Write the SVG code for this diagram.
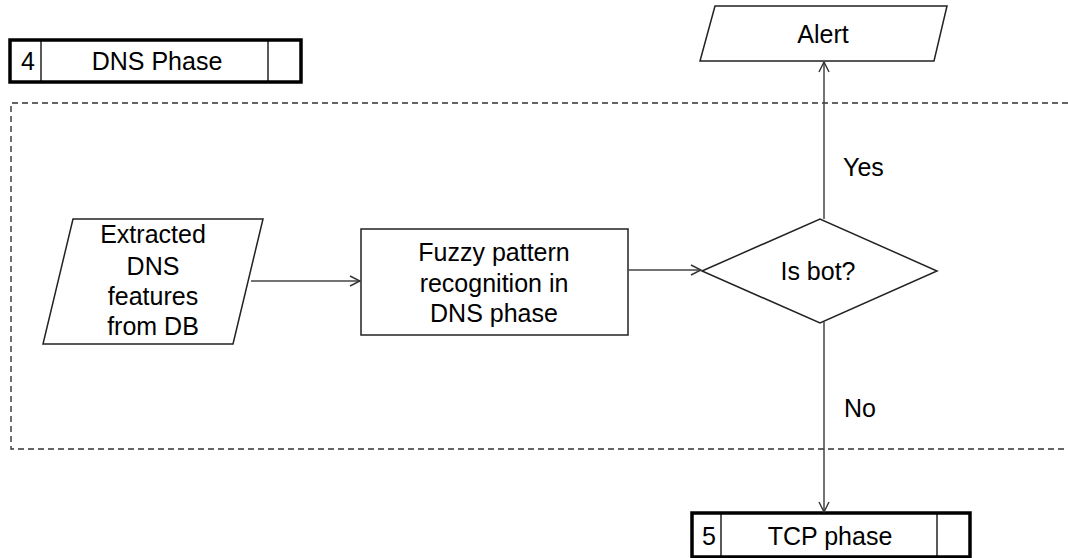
<svg xmlns="http://www.w3.org/2000/svg" width="1068" height="558" viewBox="0 0 1068 558">
  <defs>
    <marker id="openArrow" viewBox="0 0 12 12" refX="11" refY="6" markerWidth="12" markerHeight="12" markerUnits="userSpaceOnUse" orient="auto">
      <path d="M1,1 L11,6 L1,11" fill="none" stroke="#333" stroke-width="1.4"/>
    </marker>
  </defs>
  <style>
    .lbl { font-family: "Liberation Sans", Arial, sans-serif; font-size: 25px; fill: #000; text-anchor: middle; }
    .lbl-start { font-family: "Liberation Sans", Arial, sans-serif; font-size: 25px; fill: #000; }
    .shape { fill: #fff; stroke: #222; stroke-width: 1.5; }
    .phase { fill: #fff; stroke: #000; stroke-width: 3.5; }
    .divider { stroke: #000; stroke-width: 1.3; }
    .conn { fill: none; stroke: #444; stroke-width: 1.5; }
    .frame { fill: none; stroke: #333; stroke-width: 1.4; stroke-dasharray: 6 4; }
  </style>

  <rect width="1068" height="558" fill="#fff"/>

  <!-- phase boundary -->
  <path class="frame" d="M1068,103 H11 V449 H1068"/>

  <g id="phase-dns">
    <rect class="phase" x="10" y="40" width="291" height="42"/>
    <line class="divider" x1="41" y1="40" x2="41" y2="82"/>
    <line class="divider" x1="268" y1="40" x2="268" y2="82"/>
    <text class="lbl" x="28" y="70">4</text>
    <text class="lbl" x="157" y="70">DNS Phase</text>
  </g>

  <g id="input-features">
    <polygon class="shape" points="73,219 263,219 233,344 43,344"/>
    <text class="lbl" x="153" y="243">Extracted</text>
    <text class="lbl" x="153" y="275">DNS</text>
    <text class="lbl" x="153" y="305">features</text>
    <text class="lbl" x="153" y="335">from DB</text>
  </g>

  <g id="fuzzy-recognition">
    <rect class="shape" x="361" y="229" width="267" height="106"/>
    <text class="lbl" x="494" y="261">Fuzzy pattern</text>
    <text class="lbl" x="494" y="292">recognition in</text>
    <text class="lbl" x="494" y="322">DNS phase</text>
  </g>

  <g id="decision-bot">
    <polygon class="shape" points="702,271 820,219 937,271 820,323"/>
    <text class="lbl" x="818" y="280">Is bot?</text>
  </g>

  <g id="output-alert">
    <polygon class="shape" points="715,6 947,6 934,61 700,61"/>
    <text class="lbl" x="823" y="43">Alert</text>
  </g>

  <g id="phase-tcp">
    <rect class="phase" x="692" y="513" width="278" height="44"/>
    <line class="divider" x1="721" y1="513" x2="721" y2="557"/>
    <line class="divider" x1="937" y1="513" x2="937" y2="557"/>
    <text class="lbl" x="709" y="545">5</text>
    <text class="lbl" x="830" y="545">TCP phase</text>
  </g>

  <g id="connectors">
    <line class="conn" x1="251" y1="281" x2="360" y2="281" marker-end="url(#openArrow)"/>
    <line class="conn" x1="628" y1="270" x2="701" y2="270" marker-end="url(#openArrow)"/>
    <line class="conn" x1="824" y1="219" x2="824" y2="62" marker-end="url(#openArrow)"/>
    <line class="conn" x1="824" y1="322" x2="824" y2="512" marker-end="url(#openArrow)"/>
    <text class="lbl-start" x="843" y="176">Yes</text>
    <text class="lbl-start" x="844" y="417">No</text>
  </g>
</svg>
